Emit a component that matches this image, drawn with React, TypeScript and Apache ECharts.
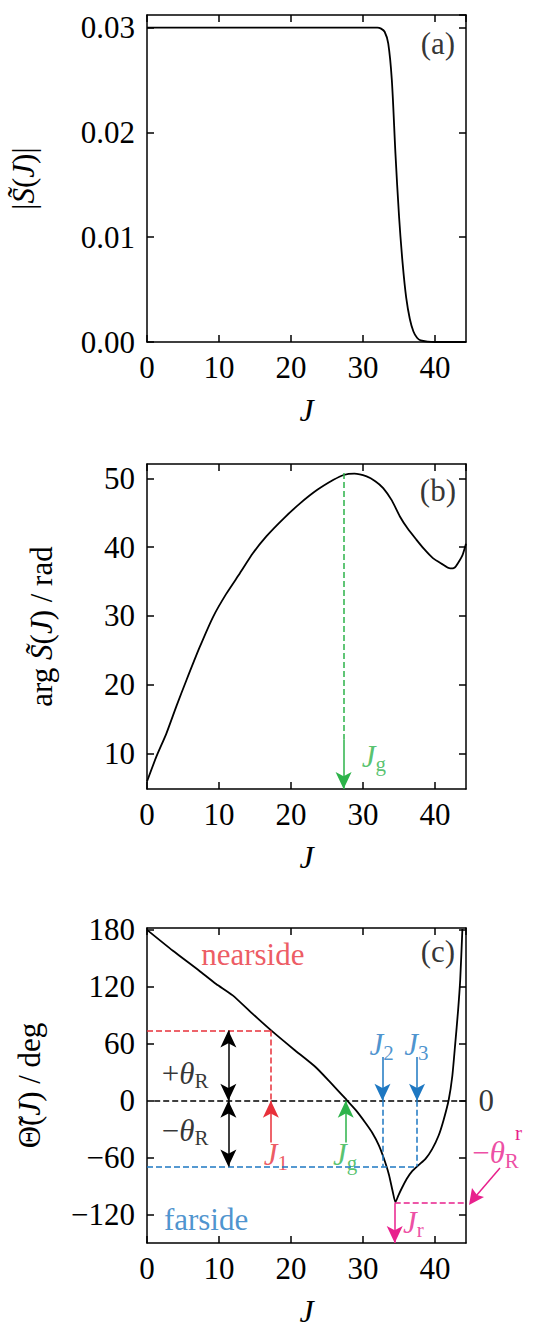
import { useEffect, useRef } from "react";
import * as echarts from "echarts";

// panel (a): |S(J)|
const magJ = [0, 10, 20, 30, 32, 32.5, 33, 33.5, 34, 34.5, 35, 35.5, 36, 36.5, 37, 37.5, 38, 39, 40, 44.3];
const magS = [0.03, 0.03, 0.03, 0.03, 0.03, 0.0299, 0.0296, 0.0285, 0.025, 0.018, 0.012, 0.0075, 0.0042, 0.0022, 0.001, 0.0004, 0.00015, 0.00003, 0, 0];

// panel (b): arg S(J)
const argJ = [0, 1.3, 2.7, 4.1, 5.5, 7.3, 9.2, 11, 12.9, 14.7, 16.6, 19, 21.3, 23.6, 25.9, 27.3, 28.8, 30.5, 31.7, 32.8, 34, 35.1, 36.2, 37.4, 38.5, 39.7, 40.9, 42.1, 42.7, 43.2, 43.8, 44.3];
const argS = [5.9, 9.5, 12.9, 16.9, 20.7, 25.4, 29.9, 33.2, 36.2, 39.1, 41.6, 44.2, 46.4, 48.3, 49.8, 50.5, 50.7, 50.3, 49.6, 48.6, 46.8, 44.5, 42.7, 41.1, 39.7, 38.4, 37.6, 36.9, 37.0, 37.7, 38.8, 40.5];

// panel (c): deflection function
const defJ = [0, 3.6, 7.25, 9.6, 11.9, 14.6, 17.4, 20.4, 23.4, 25.5, 27.6, 29, 30.3, 31.3, 32.2, 32.9, 33.6, 34.1, 34.5, 34.9, 35.4, 36.1, 36.8, 37.7, 38.7, 39.6, 40.5, 41.2, 41.9, 42.4, 42.8, 43.2, 43.5, 43.8];
const defT = [180, 158, 137, 123, 111, 92, 73, 54, 35.5, 19, 1.8, -10, -23, -34, -47, -61, -78, -95, -107, -100, -92, -82, -74.5, -68, -61, -51, -36.7, -20, 1, 26, 59.6, 95, 128, 181];

const jG = 27.3;
const j1 = 17.2;
const j2 = 32.7;
const j3 = 37.5;
const jR = 34.4;
const thetaR = 74;
const thetaFar = -69.5;
const thetaRr = -108;

const FONT = "Liberation Serif";
const RED = "#e8303a";
const BLUE = "#1e78c2";
const GREEN = "#2db34a";
const MAG = "#e8208c";

const rich = {
  n: { fontFamily: FONT, fontSize: 31, color: "#000" },
  i: { fontFamily: FONT, fontSize: 31, fontStyle: "italic", color: "#000" },
  s: { fontFamily: FONT, fontSize: 21, color: "#000", verticalAlign: "bottom", padding: [16, 0, 0, 0] },
};

function richColored(color: string) {
  return {
    n: { ...rich.n, color },
    i: { ...rich.i, color },
    s: { ...rich.s, color },
  };
}

const grids = [
  { left: 147, top: 15, width: 319, height: 327 },
  { left: 147, top: 464, width: 319, height: 325 },
  { left: 147, top: 928, width: 319, height: 322 },
];

const lineAx = { onZero: false, lineStyle: { color: "#000", width: 1.5 } };
const tickAx = { inside: true, length: 7, lineStyle: { color: "#000", width: 1.5 } };

function axisPair(i: number, xMax: number) {
  const base = {
    type: "value" as const,
    gridIndex: i,
    min: 0,
    max: xMax,
    interval: 10,
    axisLine: lineAx,
    axisTick: tickAx,
    splitLine: { show: false },
  };
  return [
    {
      ...base,
      position: "bottom",
      name: "J",
      nameLocation: "middle",
      nameGap: 52,
      nameTextStyle: { fontFamily: FONT, fontSize: 32, fontStyle: "italic", color: "#000" },
      axisLabel: { fontFamily: FONT, fontSize: 31, color: "#000", margin: 10 },
    },
    { ...base, position: "top", axisLabel: { show: false } },
  ];
}

function yPair(i: number, y: any, name: string, labels: any) {
  const { ticks, gap, ...range } = y;
  const base = {
    type: "value" as const,
    gridIndex: i,
    ...range,
    axisLine: lineAx,
    axisTick: { ...tickAx, ...(ticks ? { customValues: ticks } : {}) },
    splitLine: { show: false },
  };
  return [
    {
      ...base,
      position: "left",
      name,
      nameLocation: "middle",
      nameGap: gap,
      nameTextStyle: { rich },
      axisLabel: { fontFamily: FONT, fontSize: 31, color: "#000", margin: 12, ...labels },
    },
    { ...base, position: "right", axisLabel: { show: false } },
  ];
}

function texts(i: number, items: { x: number; y: number; t: string; c?: string }[]) {
  return {
    type: "scatter",
    xAxisIndex: 2 * i,
    yAxisIndex: 2 * i,
    symbolSize: 0,
    silent: true,
    clip: false,
    data: items.map((d) => ({
      value: [d.x, d.y],
      label: {
        show: true,
        position: "inside",
        formatter: d.t,
        rich: richColored(d.c || "#000"),
      },
    })),
  };
}

function seg(x1: number, y1: number, x2: number, y2: number, color: string, type: string, s1: string, s2: string) {
  return [
    { coord: [x1, y1], symbol: s1, lineStyle: { color, type, width: 1.5 } },
    { coord: [x2, y2], symbol: s2 },
  ];
}

export default function App() {
  const ref = useRef<HTMLDivElement>(null);

  useEffect(() => {
    if (!ref.current) return;
    const chart = echarts.init(ref.current, undefined, { renderer: "svg" });
    const ml = (data: any[]) => ({
      silent: true,
      symbolSize: [12, 17],
      label: { show: false },
      animation: false,
      data,
    });
    const option: any = {
      animation: false,
      grid: grids,
      xAxis: [...axisPair(0, 44.3), ...axisPair(1, 44.3), ...axisPair(2, 44.3)],
      yAxis: [
        ...yPair(0, { min: 0, max: 0.0312, interval: 0.01, gap: 108 }, "{n||}{i|S\u0303}{n|(}{i|J}{n|)|}", {
          formatter: (v: number) => v.toFixed(2),
        }),
        ...yPair(1, { min: 4.8, max: 52.1, gap: 90, ticks: [10, 20, 30, 40, 50] }, "{n|arg }{i|S\u0303}{n|(}{i|J}{n|) / rad}", {
          customValues: [10, 20, 30, 40, 50],
        }),
        ...yPair(2, { min: -150, max: 182, gap: 102, ticks: [-120, -60, 0, 60, 120, 180] }, "{n|\u0398\u0303(}{i|J}{n|) / deg}", {
          customValues: [-120, -60, 0, 60, 120, 180],
          formatter: (v: number) => String(v).replace("-", "\u2212"),
        }),
      ],
      series: [
        {
          type: "line",
          xAxisIndex: 0,
          yAxisIndex: 0,
          data: magJ.map((x, k) => [x, magS[k]]),
          smooth: 0.3,
          showSymbol: false,
          lineStyle: { color: "#000", width: 1.8 },
        },
        texts(0, [{ x: 40.4, y: 0.0285, t: "{n|(a)}" }]),
        {
          type: "line",
          xAxisIndex: 2,
          yAxisIndex: 2,
          data: argJ.map((x, k) => [x, argS[k]]),
          smooth: 0.2,
          showSymbol: false,
          lineStyle: { color: "#000", width: 1.8 },
          markLine: ml([
            seg(jG, 50.8, jG, 12, GREEN, "dashed", "none", "none"),
            seg(jG, 12, jG, 4.8, GREEN, "solid", "none", "arrow"),
          ]),
        },
        texts(1, [
          { x: 40.4, y: 48.3, t: "{n|(b)}" },
          { x: 31.5, y: 9.6, t: "{i|J}{s|g}", c: GREEN },
        ]),
        {
          type: "line",
          xAxisIndex: 4,
          yAxisIndex: 4,
          data: defJ.map((x, k) => [x, defT[k]]),
          smooth: 0.2,
          showSymbol: false,
          lineStyle: { color: "#000", width: 1.8 },
          markLine: ml([
            seg(1, 0, 44.3, 0, "#000", "dashed", "none", "none"),
            seg(0, thetaR, j1, thetaR, RED, "dashed", "none", "none"),
            seg(j1, thetaR, j1, 0, RED, "dashed", "none", "none"),
            seg(0, thetaFar, j3, thetaFar, BLUE, "dashed", "none", "none"),
            seg(j2, 0, j2, thetaFar, BLUE, "dashed", "none", "none"),
            seg(j3, 0, j3, thetaFar, BLUE, "dashed", "none", "none"),
            seg(j2, 46, j2, 0, BLUE, "solid", "none", "arrow"),
            seg(j3, 46, j3, 0, BLUE, "solid", "none", "arrow"),
            seg(j1, -44, j1, 0, RED, "solid", "none", "arrow"),
            seg(jG + 0.3, -44, jG + 0.3, 0, GREEN, "solid", "none", "arrow"),
            seg(11.3, thetaR, 11.3, 0, "#000", "solid", "arrow", "arrow"),
            seg(11.3, 0, 11.3, thetaFar, "#000", "solid", "arrow", "arrow"),
            seg(jR, thetaRr, 44.3, thetaRr, MAG, "dashed", "none", "none"),
            seg(jR, thetaRr, jR, -150, MAG, "solid", "none", "arrow"),
          ]),
        },
        texts(2, [
          { x: 40.4, y: 157, t: "{n|(c)}" },
          { x: 14.7, y: 154, t: "{n|nearside}", c: RED },
          { x: 8.2, y: -125, t: "{n|farside}", c: BLUE },
          { x: 5.3, y: 29, t: "{n|+}{i|\u03b8}{s|R}" },
          { x: 5.3, y: -31, t: "{n|\u2212}{i|\u03b8}{s|R}" },
          { x: 17.9, y: -57, t: "{i|J}{s|1}", c: RED },
          { x: 27.5, y: -57, t: "{i|J}{s|g}", c: GREEN },
          { x: 32.6, y: 59, t: "{i|J}{s|2}", c: BLUE },
          { x: 37.4, y: 59, t: "{i|J}{s|3}", c: BLUE },
          { x: 37, y: -128, t: "{i|J}{s|r}", c: MAG },
          { x: 47.1, y: 0, t: "{n|0}" },
          { x: 48.4, y: -55, t: "{n|\u2212}{i|\u03b8}{s|R}", c: MAG },
        ]),
      ],
      graphic: [
        {
          type: "text",
          left: 515,
          top: 1122,
          style: { text: "r", fontFamily: FONT, fontSize: 21, fill: MAG },
        },
        {
          type: "line",
          shape: { x1: 500, y1: 1168, x2: 476, y2: 1196 },
          style: { stroke: MAG, lineWidth: 1.5 },
        },
        {
          type: "polygon",
          shape: { points: [[469, 1205], [472, 1188], [477, 1195], [484, 1197]] },
          style: { fill: MAG },
        },
      ],
    };
    chart.setOption(option);
    return () => chart.dispose();
  }, []);

  return <div ref={ref} style={{ position: "absolute", left: 0, top: 0, width: 536, height: 1328, background: "#fff" }} />;
}
